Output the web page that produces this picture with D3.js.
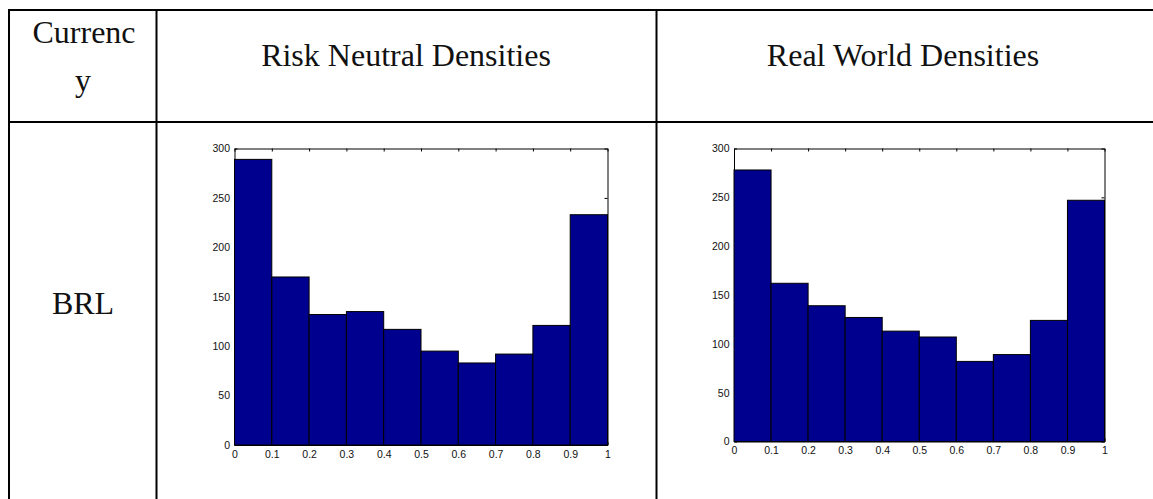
<!DOCTYPE html>
<html>
<head>
<meta charset="utf-8">
<script src="https://cdn.jsdelivr.net/npm/d3@7/dist/d3.min.js"></script>
<style>
  html, body { margin: 0; padding: 0; background: #fff; }
  svg { display: block; }
  .cell-text { font-family: "Liberation Serif", "Times New Roman", serif; font-size: 32px; fill: #111; }
  .axis text { font-family: "Liberation Sans", Arial, sans-serif; font-size: 10.5px; fill: #111; }
  .axis path, .axis line { stroke: #000; }
</style>
</head>
<body>
<svg id="chart" width="1153" height="499"></svg>
<script>
// Histogram bins on [0, 1]
const binStarts = [0, 0.1, 0.2, 0.3, 0.4, 0.5, 0.6, 0.7, 0.8, 0.9];
const binWidth = 0.1;

// Counts per bin
const riskNeutral = [289, 170, 132, 135, 117, 95, 83, 92, 121, 233];
const realWorld   = [278, 162, 139, 127, 113, 107, 82, 89, 124, 247];

// Tick values and labels
const xTicks = [0, 0.1, 0.2, 0.3, 0.4, 0.5, 0.6, 0.7, 0.8, 0.9, 1];
const xTickLabels = ["0", "0.1", "0.2", "0.3", "0.4", "0.5", "0.6", "0.7", "0.8", "0.9", "1"];
const yTicks = [0, 50, 100, 150, 200, 250, 300];

// Table text
const headers = ["Currency", "Risk Neutral Densities", "Real World Densities"];
const rowLabels = ["BRL"];

const svg = d3.select("#chart");

// ---- table grid ----
const grid = svg.append("g").attr("stroke", "#000").attr("stroke-width", 2);
const colX = [9, 156.5, 656.5];
const rowY = [10, 122];
grid.append("line").attr("x1", 8).attr("x2", 1153).attr("y1", rowY[0]).attr("y2", rowY[0]);
grid.append("line").attr("x1", 8).attr("x2", 1153).attr("y1", rowY[1]).attr("y2", rowY[1]);
colX.forEach(x => grid.append("line").attr("x1", x).attr("x2", x).attr("y1", 9).attr("y2", 499));

// header cells ("Currency" wraps inside its narrow column)
svg.append("text").attr("class", "cell-text").attr("text-anchor", "middle")
  .attr("x", 84).attr("y", 43).text(headers[0].slice(0, 7));
svg.append("text").attr("class", "cell-text").attr("text-anchor", "middle")
  .attr("x", 83).attr("y", 91).text(headers[0].slice(7));
svg.append("text").attr("class", "cell-text").attr("text-anchor", "middle")
  .attr("x", 406).attr("y", 66).text(headers[1]);
svg.append("text").attr("class", "cell-text").attr("text-anchor", "middle")
  .attr("x", 903).attr("y", 66).text(headers[2]);
svg.append("text").attr("class", "cell-text").attr("text-anchor", "middle")
  .attr("x", 83).attr("y", 314).text(rowLabels[0]);

// ---- histogram panel ----
function histogram(values, box) {
  const x = d3.scaleLinear().domain([0, 1]).range([box.left, box.right]);
  const y = d3.scaleLinear().domain([0, 300]).range([box.bottom, box.top]);
  const g = svg.append("g");
  const tick = 3;

  g.append("g").attr("class", "axis")
    .attr("transform", `translate(0,${box.bottom})`)
    .call(d3.axisBottom(x).tickValues(xTicks).tickFormat((d, i) => xTickLabels[i])
      .tickSizeInner(-tick).tickSizeOuter(0).tickPadding(5.5));
  g.append("g").attr("class", "axis")
    .attr("transform", `translate(0,${box.top})`)
    .call(d3.axisTop(x).tickValues(xTicks).tickFormat("")
      .tickSizeInner(-tick).tickSizeOuter(0));
  g.append("g").attr("class", "axis")
    .attr("transform", `translate(${box.left},0)`)
    .call(d3.axisLeft(y).tickValues(yTicks).tickSizeInner(-tick).tickSizeOuter(0).tickPadding(4.5));
  g.append("g").attr("class", "axis")
    .attr("transform", `translate(${box.right},0)`)
    .call(d3.axisRight(y).tickValues(yTicks).tickFormat("")
      .tickSizeInner(-tick).tickSizeOuter(0));

  g.selectAll("rect.bar").data(values).join("rect")
    .attr("class", "bar")
    .attr("x", (d, i) => x(binStarts[i]))
    .attr("width", (d, i) => x(binStarts[i] + binWidth) - x(binStarts[i]))
    .attr("y", d => y(d))
    .attr("height", d => y(0) - y(d))
    .attr("fill", "#00008f")
    .attr("stroke", "#000")
    .attr("stroke-width", 1);
}

histogram(riskNeutral, { left: 234.5, right: 607.5, top: 148.5, bottom: 445 });
histogram(realWorld,   { left: 734, right: 1104.5, top: 148.5, bottom: 441.5 });
</script>
</body>
</html>
